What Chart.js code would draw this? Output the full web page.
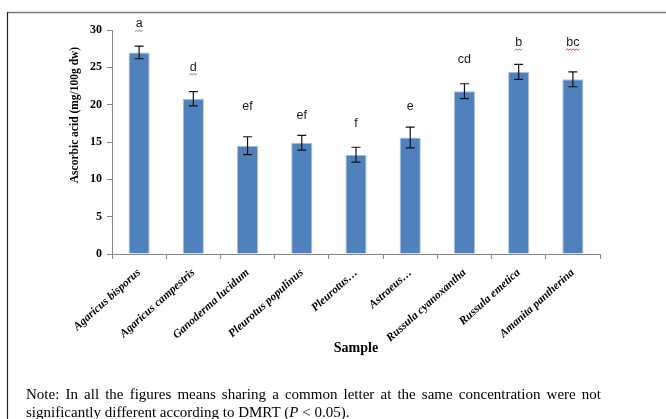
<!DOCTYPE html>
<html>
<head>
<meta charset="utf-8">
<script src="https://cdn.jsdelivr.net/npm/chart.js@4/dist/chart.umd.min.js"></script>
<style>
  html, body { margin: 0; padding: 0; background: #fff; }
  #wrap { position: relative; width: 666px; height: 419px; }
  canvas { display: block; }
</style>
</head>
<body>
<div id="wrap"><canvas id="c" width="666" height="419"></canvas></div>
<script>
// Ascorbic acid content of mushroom samples (mg/100g dw)
const samples = [
  "Agaricus bisporus", "Agaricus campestris", "Ganoderma lucidum",
  "Pleurotus populinus", "Pleurotus\u2026", "Astraeus\u2026",
  "Russula cyanoxantha", "Russula emetica", "Amanita pantherina"
];
const ascorbic = [27.0, 20.8, 14.5, 14.9, 13.3, 15.6, 21.8, 24.4, 23.4];
const stdErr   = [0.85, 0.95, 1.2, 1.0, 1.0, 1.4, 1.0, 1.0, 1.0];
// DMRT grouping letters and the height (in axis units) they sit at
const groupLetters = ["a", "d", "ef", "ef", "f", "e", "cd", "b", "bc"];
const letterLevel  = [30.8, 25.0, 19.7, 18.6, 17.5, 19.7, 26.0, 28.3, 28.3];
// spell-check style underline colour per letter ("" = none)
const squiggle = ["#3c9a3c", "#3c9a3c", "", "", "", "", "", "#3c9a3c", "#e02020"];
const yTicks = [0, 5, 10, 15, 20, 25, 30];

const SERIF = "'Liberation Serif', 'Times New Roman', serif";
const SANS = "'Liberation Sans', Arial, sans-serif";

const decorations = {
  id: "decorations",
  afterDatasetsDraw(chart) {
    const ctx = chart.ctx;
    const x = chart.scales.x, y = chart.scales.y;
    ctx.save();
    // error bars
    ctx.strokeStyle = "#111";
    ctx.lineWidth = 1.2;
    ascorbic.forEach((v, i) => {
      const cx = x.getPixelForValue(i);
      const top = y.getPixelForValue(v + stdErr[i]);
      const bot = y.getPixelForValue(v - stdErr[i]);
      ctx.beginPath();
      ctx.moveTo(cx, top); ctx.lineTo(cx, bot);
      ctx.moveTo(cx - 4.5, top); ctx.lineTo(cx + 4.5, top);
      ctx.moveTo(cx - 4.5, bot); ctx.lineTo(cx + 4.5, bot);
      ctx.stroke();
    });
    // group letters
    ctx.fillStyle = "#1a1a1a";
    ctx.font = "12.5px " + SANS;
    ctx.textAlign = "center";
    ctx.textBaseline = "middle";
    groupLetters.forEach((t, i) => {
      const cx = x.getPixelForValue(i);
      const cy = y.getPixelForValue(letterLevel[i]);
      ctx.fillText(t, cx, cy);
      if (squiggle[i]) {
        const w = ctx.measureText(t).width;
        ctx.strokeStyle = squiggle[i];
        ctx.lineWidth = 0.9;
        ctx.beginPath();
        let sx = cx - w / 2 - 0.5, sy = cy + 7.5;
        ctx.moveTo(sx, sy);
        let up = true;
        for (let px = sx + 1.5; px <= cx + w / 2 + 0.6; px += 1.5) {
          ctx.lineTo(px, sy + (up ? -1.2 : 0));
          up = !up;
        }
        ctx.stroke();
      }
    });
    // y axis title
    ctx.fillStyle = "#000";
    ctx.font = "bold 11.5px " + SERIF;
    ctx.translate(75, 115);
    ctx.rotate(-Math.PI / 2);
    ctx.fillText("Ascorbic acid (mg/100g dw)", 0, 0);
    ctx.restore();

    // x axis title
    ctx.save();
    ctx.fillStyle = "#000";
    ctx.font = "bold 14px " + SERIF;
    ctx.textAlign = "center";
    ctx.textBaseline = "middle";
    ctx.fillText("Sample", (x.left + x.right) / 2, 348);
    ctx.restore();

    // frame
    ctx.save();
    ctx.strokeStyle = "#7a7a7a";
    ctx.lineWidth = 1.5;
    ctx.beginPath();
    ctx.moveTo(7, 12.5); ctx.lineTo(666, 12.5);
    ctx.stroke();
    ctx.strokeStyle = "#222";
    ctx.lineWidth = 1.2;
    ctx.beginPath();
    ctx.moveTo(7.5, 12); ctx.lineTo(7.5, 419);
    ctx.stroke();
    ctx.restore();

    // note below the figure, first line justified
    ctx.save();
    ctx.fillStyle = "#000";
    ctx.textBaseline = "middle";
    const font = "15px " + SERIF;
    ctx.font = font;
    const line1 = "Note: In all the figures means sharing a common letter at the same concentration were not".split(" ");
    const left = 26, right = 601;
    const wordsW = line1.reduce((s, w) => s + ctx.measureText(w).width, 0);
    const gap = (right - left - wordsW) / (line1.length - 1);
    let px = left;
    line1.forEach(w => { ctx.fillText(w, px, 395); px += ctx.measureText(w).width + gap; });
    // second line with italic P
    const parts = [["significantly different according to DMRT (", false], ["P", true], [" < 0.05).", false]];
    px = left;
    parts.forEach(([t, it]) => {
      ctx.font = (it ? "italic " : "") + font;
      ctx.fillText(t, px, 413);
      px += ctx.measureText(t).width;
    });
    ctx.restore();
  }
};

new Chart(document.getElementById("c"), {
  type: "bar",
  data: {
    labels: samples,
    datasets: [{
      data: ascorbic,
      backgroundColor: "#4f81bd",
      borderColor: "#a7c0e0",
      borderWidth: 1,
      barPercentage: 0.39,
      categoryPercentage: 1.0
    }]
  },
  options: {
    responsive: false,
    animation: false,
    devicePixelRatio: 1,
    layout: { padding: { left: 0, top: 30, right: 66, bottom: 0 } },
    plugins: { legend: { display: false }, tooltip: { enabled: false } },
    scales: {
      y: {
        min: 0, max: 30,
        afterFit(s) { s.width = 112; },
        afterBuildTicks(s) { s.ticks = yTicks.map(v => ({ value: v })); },
        border: { color: "#868686", width: 1 },
        grid: { drawOnChartArea: false, drawTicks: true, tickLength: 5, color: "#868686" },
        ticks: { color: "#000", padding: 5, font: { family: SERIF, size: 12, weight: "bold" } }
      },
      x: {
        afterFit(s) { s.height = 165; },
        border: { color: "#868686", width: 1 },
        grid: { offset: true, drawOnChartArea: false, drawTicks: true, tickLength: 5, color: "#868686" },
        ticks: {
          autoSkip: false, maxRotation: 42, minRotation: 42, padding: 7,
          color: "#000",
          font: { family: SERIF, size: 11.5, weight: "bold", style: "italic" }
        }
      }
    }
  },
  plugins: [decorations]
});
</script>
</body>
</html>
